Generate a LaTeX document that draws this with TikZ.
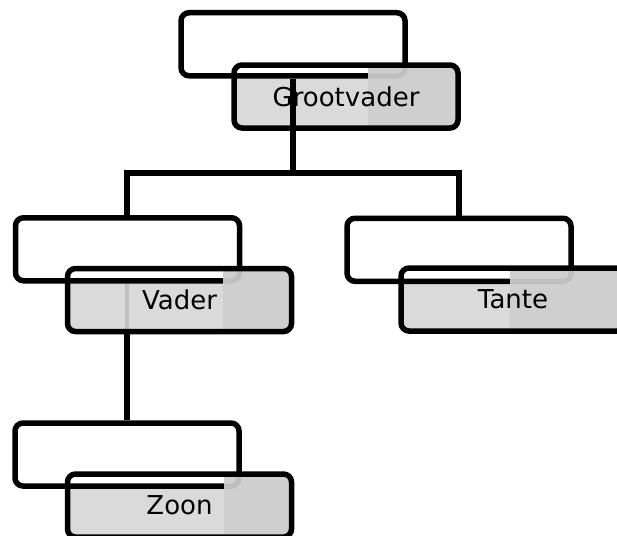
\documentclass[tikz,border=0pt]{standalone}
\usepackage{fontspec}
\setmainfont{DejaVu Sans}
\definecolor{lightfill}{HTML}{DADADA}
\definecolor{darkfill}{HTML}{CFCFCF}
\definecolor{faintline}{HTML}{BFBFBF}
\tikzset{
  boxshape/.style={rectangle, rounded corners=8pt, inner sep=0pt, minimum width=224pt, minimum height=63pt},
  whitebox/.style={boxshape, fill=white, draw=black, line width=5.5pt},
  grayframe/.style={boxshape, draw=black, line width=5.5pt, font=\fontsize{26}{30}\selectfont},
  conn/.style={draw=black, line width=5.5pt},
  faint/.style={draw=faintline, line width=4pt},
}
% #1 name, #2 white centre, #3 gray centre, #4 dark start x
\newcommand{\famunit}[4]{%
  \fill[lightfill, rounded corners=8pt] ($(#3)+(-112,-31.5)$) rectangle ($(#3)+(112,31.5)$);
  \node[whitebox] (#1w) at (#2) {};
  \begin{scope}
    \clip (#4,-1000) rectangle (2000,1000);
    \fill[darkfill, rounded corners=8pt] ($(#3)+(-112,-31.5)$) rectangle ($(#3)+(112,31.5)$);
    \begin{scope}
      \clip[rounded corners=8pt] ($(#3)+(-112,-31.5)$) rectangle ($(#3)+(112,31.5)$);
      \draw[faintline, line width=5pt, rounded corners=8pt] ($(#2)+(-112,-31.75)$) rectangle ($(#2)+(112,31.75)$);
    \end{scope}
  \end{scope}
}
\usetikzlibrary{calc}
\begin{document}
\begin{tikzpicture}[x=1pt, y=-1pt]
\useasboundingbox (0,0) rectangle (617,535);
\clip (0,0) rectangle (617,535);

% Grootvader
\famunit{gv}{293,44.25}{346,96.5}{368}
\node[grayframe] (gv) at (346,96.5) {Grootvader};
% Vader
\famunit{va}{127.5,249.25}{179.5,300}{223}
% Tante
\famunit{ta}{459,249.75}{513,299.5}{510}
% Zoon
\famunit{zo}{127,454.5}{179.5,505.5}{224}

\coordinate (j0) at (293,173);
\coordinate (j1) at (127,173);
\coordinate (j2) at (459,173);

% faint connector segment inside Vader
\draw[faint] (vaw.south -| j1) -- (127,331);

\node[grayframe] (va) at (179.5,300) {Vader};
\node[grayframe] (ta) at (513,299.5) {Tante};
\node[grayframe] (zo) at (179.5,505.5) {Zoon};

% connectors
\draw[conn] (gvw.south -| j0) -- (j0);
\draw[conn, line join=miter] (vaw.north -| j1) -- (j1) -- (j2) -- (taw.north -| j2);
\draw[conn] (va.south -| j1) -- (zow.north -| j1);
\end{tikzpicture}
\end{document}
